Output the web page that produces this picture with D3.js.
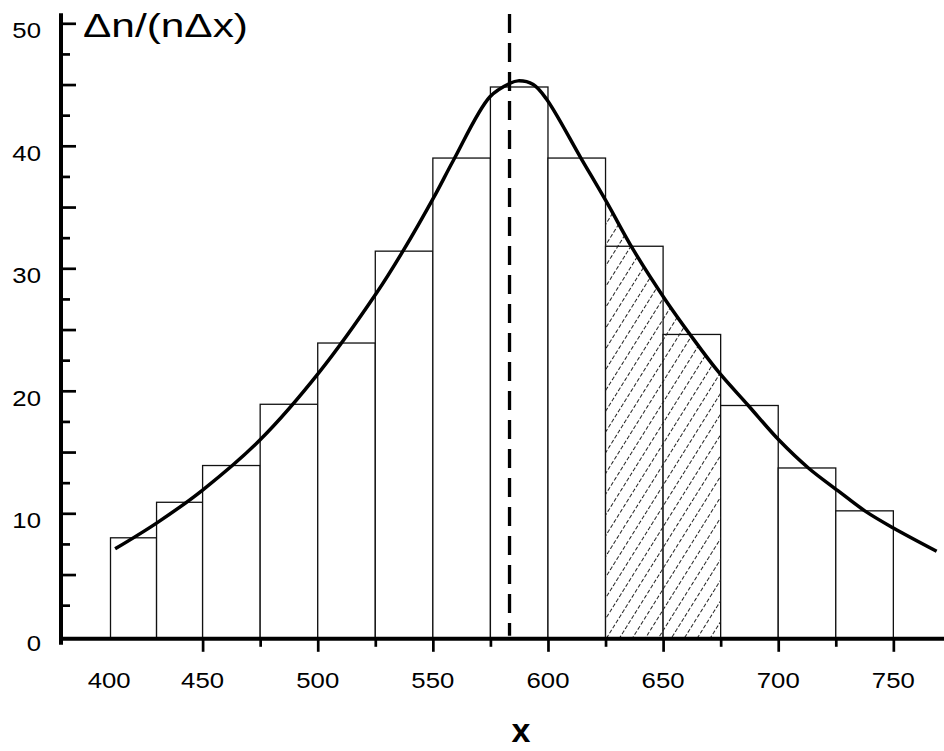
<!DOCTYPE html>
<html>
<head>
<meta charset="utf-8">
<script src="https://cdn.jsdelivr.net/npm/d3@7"></script>
<style>
  body { margin: 0; background: #fff; }
  svg { display: block; font-family: "Liberation Sans", Arial, sans-serif; }
</style>
</head>
<body>
<div id="chart"></div>
<script>
// Histogram bin edges and heights
const binEdges = [410, 430, 450, 475, 500, 525, 550, 575, 600, 625, 650, 675, 700, 725, 750];
const binValues = [8.0, 10.9, 13.9, 18.9, 23.9, 31.4, 39.0, 44.8, 39.0, 31.8, 24.6, 18.8, 13.7, 10.2];

// Fitted curve, points
const curveX = [412, 430, 450, 475, 500.6, 525.6, 537, 551.3, 558.9, 574.8, 583.5, 587, 593.6, 599.4, 614.3, 625.5, 637.1, 651.1, 661.7, 673.8, 687, 700.2, 713.1, 725.9, 737.6, 750, 768.8];
const curveY = [7.1, 9.2, 11.9, 16.0, 21.5, 28.0, 31.4, 36.1, 38.8, 44.0, 45.1, 45.3, 45.0, 43.8, 39.0, 35.4, 31.5, 27.4, 24.6, 21.6, 18.8, 16.0, 13.7, 11.85, 10.2, 8.8, 6.9];

// Mean marker and shaded interval
const meanX = 583.3;
const shadedRange = [625, 675];

// Ticks and labels
const xMajorTicks = [450, 500, 550, 600, 650, 700, 750];
const xMinorTicks = [475, 525, 575, 625, 675, 725];
const xTickLabels = [400, 450, 500, 550, 600, 650, 700, 750];
const yMajorTicks = [5, 10, 15, 20, 25, 30, 35, 40, 45, 50];
const yMinorTicks = [2.5, 7.5, 12.5, 17.5, 22.5, 27.5, 32.5, 37.5, 42.5, 47.5];
const yTickLabels = [0, 10, 20, 30, 40, 50];

const width = 944;
const height = 751;

const x = d3.scaleLinear().domain([388.5, 772]).range([61, 944]);
const y = d3.scaleLinear().domain([0, 50]).range([635.8, 23.3]);
const base = y(0) + 3;   // the x axis line sits just under zero

const svg = d3.select("#chart")
  .append("svg")
  .attr("width", width)
  .attr("height", height);

// hatch pattern + clip for the shaded interval
const defs = svg.append("defs");
const pattern = defs.append("pattern")
  .attr("id", "hatch")
  .attr("patternUnits", "userSpaceOnUse")
  .attr("width", 11)
  .attr("height", 12)
  .attr("patternTransform", "rotate(32)");
pattern.append("line")
  .attr("x1", 5.5).attr("y1", 0)
  .attr("x2", 5.5).attr("y2", 12)
  .attr("stroke", "#222")
  .attr("stroke-width", 1)
  .attr("stroke-dasharray", "4,2");

defs.append("clipPath")
  .attr("id", "shadeClip")
  .append("rect")
  .attr("x", x(shadedRange[0]))
  .attr("width", x(shadedRange[1]) - x(shadedRange[0]))
  .attr("y", 0)
  .attr("height", base);

// bars
svg.append("g")
  .selectAll("rect")
  .data(binValues)
  .join("rect")
  .attr("x", (d, i) => x(binEdges[i]))
  .attr("width", (d, i) => x(binEdges[i + 1]) - x(binEdges[i]))
  .attr("y", d => y(d))
  .attr("height", d => base - y(d))
  .attr("fill", "#fff")
  .attr("stroke", "#111")
  .attr("stroke-width", 1.3);

const idx = d3.range(curveX.length);

// hatched area under the curve
svg.append("path")
  .datum(idx)
  .attr("d", d3.area()
    .x(i => x(curveX[i]))
    .y0(base)
    .y1(i => y(curveY[i]))
    .curve(d3.curveCatmullRom))
  .attr("fill", "url(#hatch)")
  .attr("clip-path", "url(#shadeClip)");

// dashed mean line
svg.append("line")
  .attr("x1", x(meanX)).attr("x2", x(meanX))
  .attr("y1", 14).attr("y2", y(0))
  .attr("stroke", "#000")
  .attr("stroke-width", 3.3)
  .attr("stroke-dasharray", "19,10");

// fitted curve
svg.append("path")
  .datum(idx)
  .attr("d", d3.line()
    .x(i => x(curveX[i]))
    .y(i => y(curveY[i]))
    .curve(d3.curveCatmullRom))
  .attr("fill", "none")
  .attr("stroke", "#000")
  .attr("stroke-width", 3.5);

// x axis ticks (pointing down)
function styleTicks(g) {
  g.select(".domain").remove();
  g.selectAll(".tick line").attr("stroke", "#000").attr("stroke-width", 2.7);
}
svg.append("g")
  .attr("transform", `translate(0,${base})`)
  .call(d3.axisBottom(x).tickValues(xMajorTicks).tickSize(13).tickFormat(""))
  .call(styleTicks);
svg.append("g")
  .attr("transform", `translate(0,${base})`)
  .call(d3.axisBottom(x).tickValues(xMinorTicks).tickSize(8).tickFormat(""))
  .call(styleTicks);

// y axis ticks (pointing inward)
svg.append("g")
  .attr("transform", `translate(${x.range()[0]},0)`)
  .call(d3.axisRight(y).tickValues(yMajorTicks).tickSize(15).tickFormat(""))
  .call(styleTicks);
svg.append("g")
  .attr("transform", `translate(${x.range()[0]},0)`)
  .call(d3.axisRight(y).tickValues(yMinorTicks).tickSize(9).tickFormat(""))
  .call(styleTicks);

// axis lines
svg.append("line")
  .attr("x1", x.range()[0] - 2).attr("x2", x.range()[1])
  .attr("y1", base).attr("y2", base)
  .attr("stroke", "#000").attr("stroke-width", 4);
svg.append("line")
  .attr("x1", x.range()[0]).attr("x2", x.range()[0])
  .attr("y1", y(50) - 10).attr("y2", base + 6)
  .attr("stroke", "#000").attr("stroke-width", 4);

// tick labels (the 400 label is nudged right, off the y axis)
const xLabelPos = v => v === 400 ? x(409.4) : x(v);
svg.append("g")
  .selectAll("g")
  .data(xTickLabels)
  .join("g")
  .attr("transform", d => `translate(${xLabelPos(d)},688) scale(1.12,1)`)
  .append("text")
  .attr("text-anchor", "middle")
  .attr("font-size", 23)
  .text(d => d);

svg.append("g")
  .selectAll("g")
  .data(yTickLabels)
  .join("g")
  .attr("transform", d => `translate(41,${y(d) + 15}) scale(1.12,1)`)
  .append("text")
  .attr("text-anchor", "end")
  .attr("font-size", 23)
  .text(d => d);

// titles
svg.append("text")
  .attr("x", 83)
  .attr("y", 37)
  .attr("font-size", 34)
  .attr("textLength", 165)
  .attr("lengthAdjust", "spacingAndGlyphs")
  .text("\u0394n/(n\u0394x)");

svg.append("text")
  .attr("x", 521)
  .attr("y", 742)
  .attr("text-anchor", "middle")
  .attr("font-size", 34)
  .attr("font-weight", "bold")
  .text("x");
</script>
</body>
</html>
